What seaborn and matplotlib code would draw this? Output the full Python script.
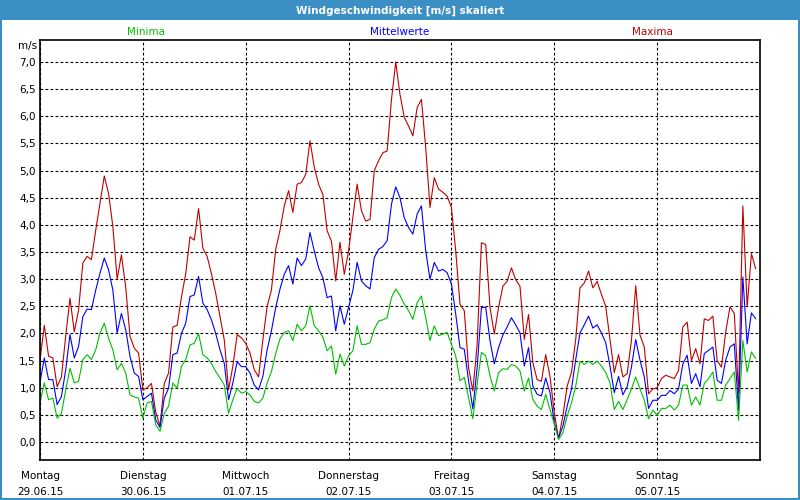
# Windgeschwindigkeit – Minima / Mittelwerte / Maxima, stündlich über eine Woche
import matplotlib
matplotlib.use('Agg')
import matplotlib.pyplot as plt
import seaborn as sns
from matplotlib.patches import Rectangle
from matplotlib.ticker import FuncFormatter

# Werte in m/s, eine Zeile pro Tag (24 Stunden)
maxima = [
    1.50, 2.15, 1.58, 1.55, 1.02, 1.20, 1.95, 2.65, 2.03, 2.43, 3.30, 3.42, 3.36, 3.90, 4.40, 4.90, 4.58, 3.97, 3.00, 3.45, 2.85, 1.95, 1.73, 1.64,
    0.96, 1.00, 1.08, 0.55, 0.30, 1.08, 1.27, 2.12, 2.15, 2.67, 3.10, 3.78, 3.72, 4.30, 3.57, 3.42, 3.10, 2.74, 2.31, 1.88, 0.96, 1.40, 1.98, 1.92,
    1.82, 1.64, 1.33, 1.20, 1.88, 2.50, 2.80, 3.55, 3.90, 4.35, 4.63, 4.23, 4.75, 4.78, 4.93, 5.55, 5.06, 4.75, 4.56, 3.89, 3.70, 2.97, 3.68, 3.09,
    3.52, 4.13, 4.75, 4.26, 4.07, 4.10, 5.00, 5.18, 5.33, 5.36, 6.30, 7.00, 6.40, 5.98, 5.82, 5.64, 6.16, 6.31, 5.42, 4.32, 4.87, 4.66, 4.60, 4.53,
    4.32, 3.52, 2.54, 2.42, 1.37, 0.94, 1.80, 3.67, 3.64, 2.48, 1.99, 2.48, 2.87, 2.96, 3.21, 2.99, 2.87, 1.89, 2.35, 1.46, 1.15, 1.12, 1.61, 1.21,
    0.54, 0.06, 0.48, 1.03, 1.28, 1.89, 2.84, 2.93, 3.15, 2.84, 2.96, 2.72, 2.50, 1.89, 1.28, 1.61, 1.20, 1.26, 1.87, 2.88, 1.97, 1.75, 0.89, 0.98,
    1.00, 1.17, 1.23, 1.20, 1.17, 1.32, 2.12, 2.21, 1.50, 1.72, 1.44, 2.27, 2.24, 2.32, 1.50, 1.38, 2.03, 2.49, 2.37, 0.90, 4.35, 2.49, 3.47, 3.19,
]
mittelwerte = [
    1.10, 1.55, 1.15, 1.15, 0.69, 0.84, 1.33, 1.98, 1.55, 1.76, 2.31, 2.45, 2.44, 2.80, 3.11, 3.39, 3.17, 2.80, 2.01, 2.37, 2.07, 1.58, 1.27, 1.21,
    0.78, 0.84, 0.90, 0.41, 0.27, 0.81, 0.99, 1.61, 1.64, 2.00, 2.19, 2.68, 2.71, 3.05, 2.56, 2.44, 2.25, 2.00, 1.70, 1.45, 0.78, 1.09, 1.48, 1.39,
    1.39, 1.27, 1.05, 0.96, 1.21, 1.70, 2.05, 2.48, 2.82, 3.09, 3.25, 2.91, 3.39, 3.25, 3.37, 3.86, 3.52, 3.21, 3.03, 2.66, 2.69, 2.05, 2.51, 2.17,
    2.48, 2.79, 3.31, 2.97, 2.88, 2.82, 3.40, 3.55, 3.60, 3.71, 4.38, 4.70, 4.50, 4.13, 3.95, 3.83, 4.20, 4.35, 3.52, 3.00, 3.31, 3.15, 3.18, 3.12,
    2.91, 2.36, 1.74, 1.71, 1.13, 0.61, 1.37, 2.48, 2.48, 1.87, 1.44, 1.74, 1.97, 2.12, 2.29, 2.16, 2.01, 1.40, 1.74, 1.03, 0.88, 0.85, 1.18, 0.91,
    0.36, 0.08, 0.29, 0.66, 0.97, 1.52, 2.01, 2.16, 2.32, 2.10, 2.16, 2.01, 1.83, 1.40, 0.91, 1.21, 0.87, 1.02, 1.38, 1.89, 1.51, 1.20, 0.62, 0.77,
    0.77, 0.86, 0.86, 0.95, 0.89, 0.98, 1.44, 1.60, 1.08, 1.26, 1.02, 1.63, 1.69, 1.75, 1.14, 1.08, 1.51, 1.75, 1.81, 0.59, 3.04, 1.81, 2.38, 2.27,
]
minima = [
    0.72, 1.09, 0.78, 0.81, 0.44, 0.53, 0.96, 1.36, 1.09, 1.12, 1.52, 1.61, 1.52, 1.70, 2.01, 2.19, 1.91, 1.70, 1.33, 1.45, 1.27, 0.87, 0.83, 0.81,
    0.44, 0.72, 0.75, 0.32, 0.20, 0.53, 0.66, 1.09, 0.99, 1.39, 1.52, 1.79, 1.82, 2.00, 1.61, 1.55, 1.45, 1.30, 1.18, 1.05, 0.53, 0.78, 0.99, 0.90,
    0.93, 0.87, 0.75, 0.72, 0.81, 1.09, 1.30, 1.63, 1.90, 2.02, 2.05, 1.87, 2.17, 2.05, 2.14, 2.51, 2.14, 2.05, 1.93, 1.68, 1.77, 1.25, 1.62, 1.40,
    1.59, 1.68, 2.14, 1.80, 1.80, 1.83, 2.08, 2.23, 2.25, 2.29, 2.66, 2.82, 2.70, 2.54, 2.42, 2.26, 2.57, 2.69, 2.29, 1.87, 2.14, 1.96, 1.99, 2.02,
    1.80, 1.59, 1.13, 1.19, 0.82, 0.43, 1.07, 1.65, 1.59, 1.22, 0.94, 1.28, 1.35, 1.34, 1.43, 1.40, 1.31, 0.94, 1.18, 0.79, 0.66, 0.60, 0.88, 0.60,
    0.33, 0.05, 0.17, 0.48, 0.72, 1.03, 1.49, 1.43, 1.49, 1.43, 1.49, 1.40, 1.28, 1.09, 0.60, 0.75, 0.60, 0.78, 0.98, 1.20, 0.98, 0.77, 0.43, 0.59,
    0.49, 0.62, 0.62, 0.68, 0.59, 0.68, 1.05, 1.05, 0.68, 0.83, 0.68, 1.08, 1.17, 1.29, 0.77, 0.77, 1.05, 1.17, 1.29, 0.40, 1.87, 1.29, 1.66, 1.54,
]
stunden = list(range(len(maxima)))

tage = ['Montag', 'Dienstag', 'Mittwoch', 'Donnerstag', 'Freitag', 'Samstag', 'Sonntag']
daten = ['29.06.15', '30.06.15', '01.07.15', '02.07.15', '03.07.15', '04.07.15', '05.07.15']

sns.set_style('white')
plt.rcParams['font.family'] = ['DejaVu Sans']

blau_rahmen = '#3c8fc4'
farbe_max = '#c00000'
farbe_mit = '#0000ff'
farbe_min = '#00c000'

fig = plt.figure(figsize=(8, 5), dpi=100)
ax = fig.add_axes([0.05, 0.08, 0.90, 0.84])

sns.lineplot(x=stunden, y=maxima, color=farbe_max, lw=0.8, ax=ax)
sns.lineplot(x=stunden, y=mittelwerte, color=farbe_mit, lw=0.8, ax=ax)
sns.lineplot(x=stunden, y=minima, color=farbe_min, lw=0.8, ax=ax)

ax.set_xlim(0, 168)
ax.set_ylim(-0.33, 7.405)
ax.set_yticks([i * 0.5 for i in range(15)])
ax.yaxis.set_major_formatter(FuncFormatter(lambda v, p: f'{v:.1f}'.replace('.', ',')))
ax.set_xticks([24 * i for i in range(7)])
ax.set_xticklabels([f'{t}\n{d}' for t, d in zip(tage, daten)], linespacing=1.7)
ax.tick_params(axis='x', length=3, width=1, pad=5, labelsize=7.5, colors='black')
ax.tick_params(axis='y', length=0, pad=3, labelsize=7.5, colors='black')
ax.set_xlabel('')
ax.set_ylabel('')

ax.grid(True, color='black', linestyle=(0, (2.5, 2)), linewidth=0.8)
for s in ax.spines.values():
    s.set_color('black')
    s.set_linewidth(1.2)
    s.set_visible(True)

# Titelleiste und Fensterrahmen
fig.patches.append(Rectangle((0, 0.96), 1, 0.04, transform=fig.transFigure,
                             facecolor=blau_rahmen, edgecolor='none', zorder=0))
fig.patches.append(Rectangle((0.001, 0.002), 0.998, 0.996, transform=fig.transFigure,
                             facecolor='none', edgecolor=blau_rahmen, lw=1.5, zorder=0))
fig.text(0.5, 0.979, 'Windgeschwindigkeit [m/s] skaliert', color='white',
         fontsize=7.5, fontweight='bold', ha='center', va='center')

fig.text(0.1825, 0.936, 'Minima', color=farbe_min, fontsize=7.5, ha='center', va='center')
fig.text(0.5, 0.936, 'Mittelwerte', color=farbe_mit, fontsize=7.5, ha='center', va='center')
fig.text(0.816, 0.936, 'Maxima', color=farbe_max, fontsize=7.5, ha='center', va='center')
fig.text(0.046, 0.908, 'm/s', color='black', fontsize=7.5, ha='right', va='center')

fig.savefig('out.png', dpi=100, facecolor='white')
